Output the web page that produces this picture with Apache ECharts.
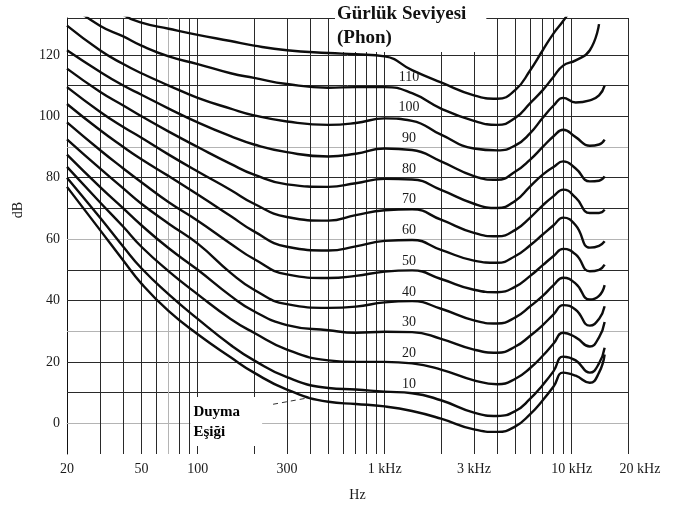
<!DOCTYPE html>
<html>
<head>
<meta charset="utf-8">
<title>Eşit Gürlük Eğrileri</title>
<script src="https://cdn.jsdelivr.net/npm/echarts@6/dist/echarts.min.js"></script>
<style>
  html, body { margin: 0; padding: 0; background: #fff; }
  #chart { width: 678px; height: 507px; }
</style>
</head>
<body>
<div id="chart"></div>
<script>
// frekanslar (Hz)
const freqs = [20, 30, 40, 50, 70, 100, 150, 200, 300, 500, 700, 1000, 1400,
  2000, 3000, 4000, 5000, 6000, 7000, 8000, 9000, 10500, 12500, 14000, 15000];

// eğriler (dB)
const threshold = [77, 63, 53, 45.5, 36.5, 29, 21.5, 16.5, 11, 7, 6.3, 5.5, 4, 1.5, -2, -2.8, -1, 3, 7.5, 12, 16.5, 15.5, 13.2, 16.5, 22.4];
const phon10 = [80, 67, 57.5, 50.5, 42, 34, 25.5, 20.5, 15, 11.5, 11, 10.3, 9.8, 7.5, 3.5, 2.4, 4, 8, 12.5, 17, 21.7, 20.5, 16.5, 19.5, 24.6];
const phon20 = [83.5, 72, 64, 57.5, 49.5, 42, 34, 29.5, 24, 20.5, 20, 20, 19.5, 17.5, 14, 12.7, 14.5, 18, 22, 26, 29.5, 28, 25, 28, 33];
const phon30 = [87.5, 77, 70, 64.5, 57, 50, 41.5, 36.5, 32, 30.3, 29.5, 29.8, 29.7, 27.5, 24, 23, 25, 28.5, 32, 35.5, 38.5, 37, 31.8, 34, 38.1];
const phon40 = [92.5, 83, 76.5, 71.5, 65, 58.5, 49, 43.5, 38.8, 37.6, 38, 39.4, 39.8, 37.3, 33.5, 32.5, 34.5, 38.1, 41.5, 45, 47.4, 45.5, 40.3, 41.5, 45];
const phon50 = [98, 89, 83, 78.5, 72, 66, 58.5, 53.5, 48.5, 47.3, 48, 49.4, 49.8, 47, 43.5, 42.7, 44.5, 48, 51.5, 54.5, 56.8, 55, 49.5, 50, 51.7];
const phon60 = [104, 95.5, 90, 86, 80.5, 74.5, 67.5, 62.5, 57.5, 56.3, 57.6, 59.4, 59.7, 56.5, 53, 52.3, 54.5, 58, 61.5, 64.5, 67, 64.5, 57.2, 57.8, 59.3];
const phon70 = [109.5, 101.5, 96.5, 93, 87.5, 82, 76, 71.5, 67.2, 66, 67.8, 69.4, 69.7, 66.3, 62, 60.9, 63, 67, 71, 74, 76.1, 73.5, 68.5, 68.5, 69.6];
const phon80 = [115.5, 108, 103.5, 100, 95, 90, 84.5, 81, 77.8, 77, 78.2, 79.6, 79.4, 76, 71.5, 70.1, 72.5, 77.2, 81, 83.5, 85.3, 83, 78.8, 79, 80.4];
const phon90 = [121.5, 114.5, 110, 107, 102.5, 98, 93.5, 90.8, 88.3, 86.9, 87.8, 89.5, 89, 85.3, 80.5, 79.3, 82, 85.9, 90, 93.5, 95.6, 93.2, 90.4, 90.8, 92.4];
const phon100 = [129.5, 121.5, 117, 114, 110, 106, 102.5, 100.3, 98.3, 97.2, 97.8, 99.3, 98.5, 94, 89.5, 88.9, 90.5, 94.5, 99.5, 103.5, 106, 104.5, 105.2, 106.8, 110];
const phon110 = [137, 129.5, 126, 123, 119.5, 117, 114, 112.5, 110.5, 109.3, 109.5, 109.5, 107.5, 102.5, 98.5, 97.2, 99.5, 104.3, 108.5, 112.9, 116.5, 118.2, 121.5, 130, null];
const phon120 = [null, 139, 133, 130.5, 128.5, 126.5, 124.5, 123, 121.5, 120.6, 120.2, 119.5, 115, 111, 106.8, 105.7, 108.6, 115, 121.5, 127, 131, 137, null, null, null];

// eğri etiketleri
const phonLevels = [110, 100, 90, 80, 70, 60, 50, 40, 30, 20, 10];

// eksen etiketleri
const xTickValues = [20, 50, 100, 300, 1000, 3000, 10000, 20000];
const xTickLabels = ['20', '50', '100', '300', '1 kHz', '3 kHz', '10 kHz', '20 kHz'];
const yTickLabels = [0, 20, 40, 60, 80, 100, 120];

// ızgara çizgileri
const gridFreqs = [30, 40, 50, 60, 70, 80, 90, 100, 200, 300, 400, 500, 600, 700, 800, 900,
  1000, 2000, 3000, 4000, 5000, 6000, 7000, 8000, 9000, 10000, 20000];
const gridLevels = [0, 10, 20, 30, 40, 50, 60, 70, 80, 90, 100, 110, 120, 132];
const grayFreqs = [70];
const grayLevels = [0, 30, 60, 90];

const SERIF = '"Liberation Serif", "DejaVu Serif", serif';
const DARK = '#2a2a2a';
const GRAY = '#b4b4b4';

let chart = null;

document.addEventListener('DOMContentLoaded', function() {
  chart = echarts.init(document.getElementById('chart'), null, { renderer: 'canvas' });
  chart.setOption(buildOption());
});

// eğri serisi
function curveSeries(values, withGrid) {
  const data = [];
  freqs.forEach((f, i) => {
    if (values[i] !== null) data.push([f, values[i]]);
  });
  const s = {
    type: 'line',
    data: data,
    smooth: 0.5,
    symbol: 'none',
    silent: true,
    clip: true,
    z: 2,
    lineStyle: { color: '#0d0d0d', width: 2.4 }
  };
  if (withGrid) {
    s.markLine = {
      silent: true,
      symbol: ['none', 'none'],
      z: 1,
      label: { show: false },
      data: gridLineData()
    };
  }
  return s;
}

function gridLineData() {
  const lines = [];
  gridLevels.forEach(v => {
    lines.push({
      yAxis: v,
      lineStyle: { color: grayLevels.includes(v) ? GRAY : DARK, width: 1, type: 'solid' }
    });
  });
  gridFreqs.forEach(f => {
    lines.push({
      xAxis: f,
      lineStyle: { color: grayFreqs.includes(f) ? GRAY : DARK, width: 1, type: 'solid' }
    });
  });
  return lines;
}

// görünmez nokta, sadece etiket için
function labelSeries(data, label, z) {
  return {
    type: 'scatter',
    silent: true,
    clip: false,
    z: z,
    symbolSize: 1,
    itemStyle: { color: 'transparent', opacity: 1 },
    data: data,
    label: Object.assign({ show: true, opacity: 1, textBorderWidth: 0 }, label)
  };
}

function buildOption() {
  const curves = [threshold, phon10, phon20, phon30, phon40, phon50, phon60,
    phon70, phon80, phon90, phon100, phon110, phon120];
  const series = curves.map((c, i) => curveSeries(c, i === 0));

  // eğri üzerindeki phon etiketleri
  series.push(labelSeries(
    phonLevels.map(p => [1350, p + 2.8, p]),
    {
      position: 'inside',
      formatter: p => String(p.value[2]),
      color: '#1a1a1a',
      fontFamily: SERIF,
      fontSize: 14
    }, 4));

  // x ekseni etiketleri
  series.push(labelSeries(
    xTickValues.map((f, i) => {
      const item = { value: [f, -10, i] };
      if (f === 20000) item.label = { offset: [12, 0] };
      return item;
    }),
    {
      position: 'bottom',
      distance: 8,
      formatter: p => xTickLabels[p.value[2]],
      color: '#1a1a1a',
      fontFamily: SERIF,
      fontSize: 14
    }, 4));

  // Duyma Eşiği kutusu
  const thresholdBox = labelSeries([[92, 8.4]], {
    position: [0, 0],
    align: 'left',
    verticalAlign: 'top',
    formatter: 'Duyma\nEşiği',
    color: '#000',
    fontFamily: SERIF,
    fontSize: 15,
    fontWeight: 'bold',
    lineHeight: 20,
    backgroundColor: '#fff',
    padding: [5, 22, 4, 3]
  }, 10);
  thresholdBox.markLine = {
    silent: true,
    symbol: ['none', 'none'],
    label: { show: false },
    lineStyle: { color: '#333', width: 1, type: [5, 4] },
    data: [[{ coord: [253, 6.2] }, { coord: [399, 8.4] }]]
  };
  series.push(thresholdBox);

  return {
    backgroundColor: '#fff',
    animation: false,
    title: {
      text: 'Gürlük Seviyesi\n(Phon)',
      left: 335,
      top: 0,
      padding: [2, 20, 2, 2],
      backgroundColor: '#fff',
      textStyle: {
        fontFamily: SERIF,
        fontSize: 19,
        fontWeight: 'bold',
        lineHeight: 24,
        color: '#111'
      }
    },
    grid: {
      left: 67,
      right: 50,
      top: 18,
      bottom: 53,
      containLabel: false
    },
    xAxis: {
      type: 'log',
      logBase: 10,
      min: 20,
      max: 20000,
      name: 'Hz',
      nameLocation: 'middle',
      nameGap: 34,
      nameTextStyle: {
        fontFamily: SERIF,
        fontSize: 14,
        color: '#1a1a1a',
        padding: [0, 0, 0, 20]
      },
      axisLine: { show: true, lineStyle: { color: GRAY, width: 1 } },
      axisTick: { show: false },
      axisLabel: { show: false },
      splitLine: { show: false },
      minorSplitLine: { show: false }
    },
    yAxis: {
      type: 'value',
      min: -10,
      max: 132,
      interval: 10,
      name: 'dB',
      nameLocation: 'middle',
      nameGap: 42,
      nameRotate: 90,
      nameTextStyle: {
        fontFamily: SERIF,
        fontSize: 14,
        color: '#1a1a1a',
        padding: [0, 0, 0, 52]
      },
      axisLine: { show: true, lineStyle: { color: '#111', width: 1 } },
      axisTick: { show: false },
      axisLabel: {
        margin: 7,
        color: '#1a1a1a',
        fontFamily: SERIF,
        fontSize: 14,
        formatter: function(value) {
          return yTickLabels.includes(value) ? String(value) : '';
        }
      },
      splitLine: { show: false }
    },
    series: series
  };
}
</script>
</body>
</html>
